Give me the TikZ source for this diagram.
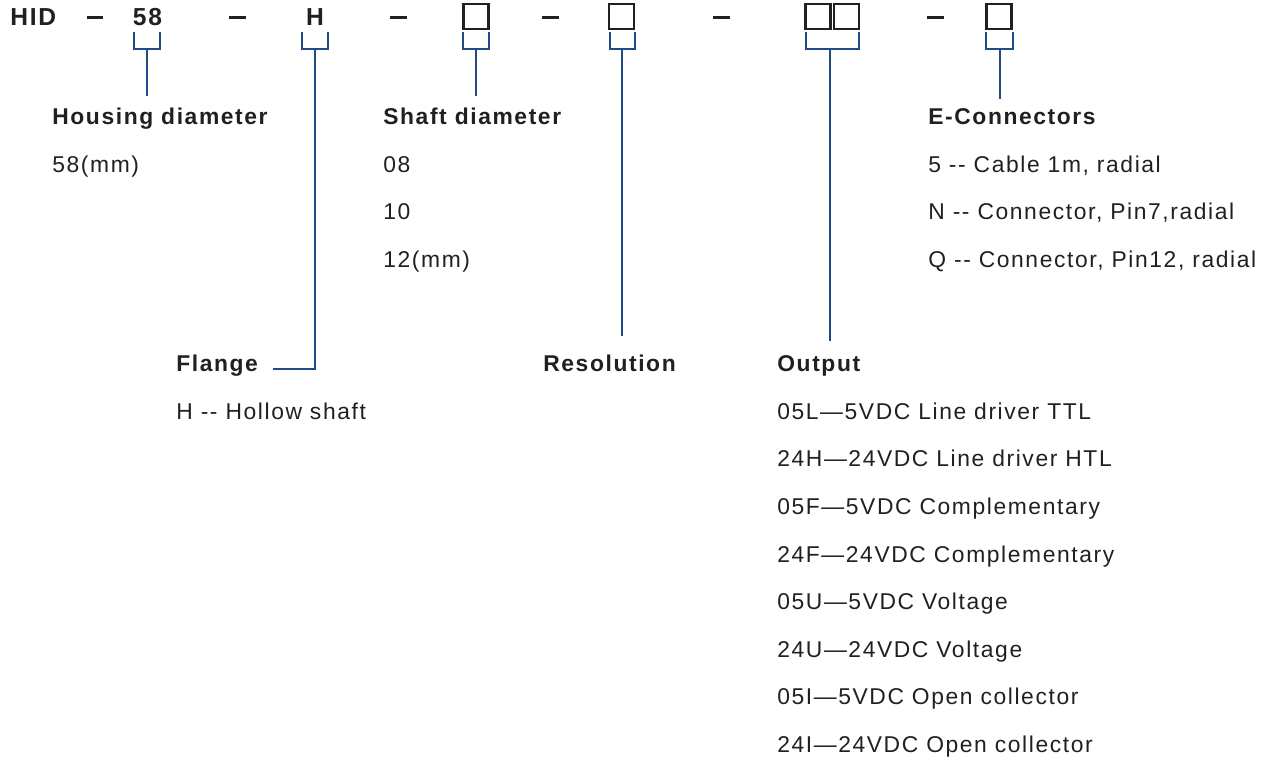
\documentclass[tikz,border=0pt]{standalone}
\usepackage{fontspec}
\setmainfont{Liberation Sans}[LetterSpace=7]
\usepackage{xcolor}
\usetikzlibrary{positioning,calc}
\definecolor{InkText}{HTML}{231F20}
\definecolor{LeadBlue}{HTML}{224A86}
\newcommand{\codebracket}[4]{\draw[lead] (#1,32) |- (#2,49) -- (#2,32); \coordinate (#3) at (#4,49);}
\tikzset{
  lead/.style={draw=LeadBlue,line width=1.35pt},
  code/.style={anchor=base,inner sep=0pt,font=\fontsize{14pt}{16pt}\selectfont\bfseries,text=InkText},
  slot/.style={draw=InkText,line width=1.35pt,minimum size=0.5cm,inner sep=0pt},
  sepbar/.style={fill=InkText,minimum width=0.34cm,minimum height=0.07cm,inner sep=0pt},
  head/.style={anchor=base west,inner sep=0pt,font=\fontsize{13pt}{15pt}\selectfont\bfseries,text=InkText},
  item/.style={anchor=base west,inner sep=0pt,font=\fontsize{13pt}{15pt}\selectfont,text=InkText}
}

\begin{document}
\begin{tikzpicture}[x=0.02cm,y=-0.02cm]
  \useasboundingbox (0,0) rectangle (1276,760);
  % type code
  \node[code,anchor=base west] (hid) at (10,26) {HID};
  \node[sepbar] (d1) at (95,17.5) {};
  \node[code] (c58) at (147.5,26) {58};
  \node[sepbar] (d2) at (237.5,17.5) {};
  \node[code] (cH) at (315,26) {H};
  \node[sepbar] (d3) at (398.5,17.5) {};
  \node[slot] (b1) at (476,16.5) {};
  \node[sepbar] (d4) at (550.5,17.5) {};
  \node[slot] (b2) at (621.5,16.5) {};
  \node[sepbar] (d5) at (721.5,17.5) {};
  \node[slot] (b3a) at (818,16.5) {};
  \node[slot] (b3b) at (846.5,16.5) {};
  \node[sepbar] (d6) at (935,17.5) {};
  \node[slot] (b4) at (999,16.5) {};
  % brackets
  \codebracket{134}{160}{s58}{147}
  \codebracket{302}{328}{sH}{315}
  \codebracket{463}{489}{sb1}{476}
  \codebracket{610}{635}{sb2}{622}
  \codebracket{806}{859}{sb3}{830}
  \codebracket{986}{1013}{sb4}{1000}
  % headings
  \node[head] (hd) at (52,125) {Housing diameter};
  \node[head] (sd) at (383,125) {Shaft diameter};
  \node[head] (ec) at (928,125) {E-Connectors};
  \node[head] (fl) at (176,372) {Flange};
  \node[head] (res) at (543,372) {Resolution};
  \node[head] (out) at (777,372) {Output};
  % leads
  \draw[lead] (s58) -- ([yshift=0.25cm]s58 |- hd.north);
  \draw[lead] (sH) |- ([xshift=0.3cm,yshift=0.06cm]fl.base east);
  \draw[lead] (sb1) -- ([yshift=0.25cm]sb1 |- sd.north);
  \draw[lead] (sb2) -- ([yshift=0.38cm]sb2 |- res.north);
  \draw[lead] (sb3) -- ([yshift=0.3cm]sb3 |- out.north);
  \draw[lead] (sb4) -- ([yshift=0.2cm]sb4 |- ec.north);
  % options
  \node[item] (hd1) at (52,172.5) {58(mm)};
  \node[item] (sd1) at (383,172.5) {08};
  \node[item] (sd2) at (383,220) {10};
  \node[item] (sd3) at (383,267.5) {12(mm)};
  \node[item] (ec1) at (928,172.5) {5 -{}- Cable 1m, radial};
  \node[item] (ec2) at (928,220) {N -{}- Connector, Pin7,radial};
  \node[item] (ec3) at (928,267.5) {Q -{}- Connector, Pin12, radial};
  \node[item] (fl1) at (176,419.5) {H -{}- Hollow shaft};
  \node[item] (out1) at (777,419.5) {05L—5VDC Line driver TTL};
  \node[item] (out2) at (777,467) {24H—24VDC Line driver HTL};
  \node[item] (out3) at (777,514.5) {05F—5VDC Complementary};
  \node[item] (out4) at (777,562) {24F—24VDC Complementary};
  \node[item] (out5) at (777,609.5) {05U—5VDC Voltage};
  \node[item] (out6) at (777,657) {24U—24VDC Voltage};
  \node[item] (out7) at (777,704.5) {05I—5VDC Open collector};
  \node[item] (out8) at (777,752) {24I—24VDC Open collector};
\end{tikzpicture}
\end{document}
